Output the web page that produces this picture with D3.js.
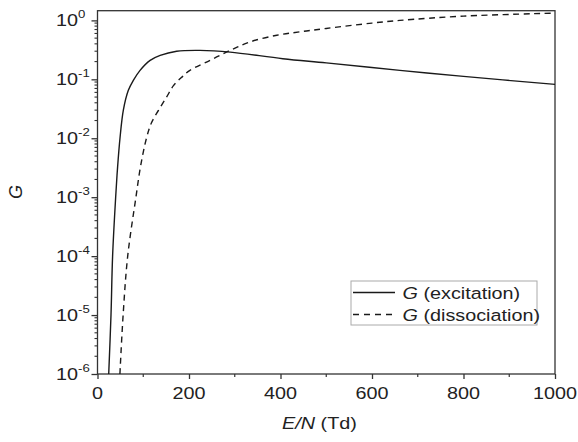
<!DOCTYPE html>
<html>
<head>
<meta charset="utf-8">
<script src="https://cdn.jsdelivr.net/npm/d3@7"></script>
<style>
  body { margin: 0; background: #fff; }
  text { font-family: "Liberation Sans", Arial, sans-serif; fill: #222; }
</style>
</head>
<body>
<svg id="chart" width="578" height="442"></svg>
<script>
// values
const excitationEN = [24.5, 29.5, 33, 39.7, 44, 49.2, 56.5, 67.4, 78.3, 93, 115, 137, 173, 224, 290, 405, 500, 661, 800, 1000];
const excitationG = [1e-6, 1e-5, 1e-4, 1e-3, 3.3e-3, 0.0101, 0.03, 0.065, 0.096, 0.142, 0.21, 0.255, 0.30, 0.31, 0.29, 0.224, 0.19, 0.142, 0.112, 0.082];

const dissociationEN = [49, 56, 66, 84, 94, 107, 117.5, 133.5, 151, 166, 185, 202, 246, 290, 333, 392, 443, 500, 600, 661, 800, 1000];
const dissociationG = [1e-6, 1e-5, 1e-4, 1e-3, 3.3e-3, 0.01, 0.018, 0.03, 0.05, 0.078, 0.11, 0.142, 0.21, 0.31, 0.43, 0.56, 0.64, 0.73, 0.9, 1.0, 1.18, 1.33];

const xTicks = [0, 200, 400, 600, 800, 1000];
const yExponents = [0, -1, -2, -3, -4, -5, -6];
const legendLabels = ["(excitation)", "(dissociation)"];

const svg = d3.select("#chart");
const margin = {left: 97.5, right: 23, top: 10.7, bottom: 68};
const width = 578 - margin.left - margin.right;
const height = 442 - margin.top - margin.bottom;
const stretch = 1.2; // the reference text is wider than plain Arial

const x = d3.scaleLinear().domain([0, 1000]).range([0, width]);
const y = d3.scaleLog().domain([1e-6, Math.pow(10, 9.7 / 59)]).range([height, 0]);

const g = svg.append("g")
  .attr("transform", "translate(" + margin.left + "," + margin.top + ")");

// text placed in a horizontally stretched group
function label(parent, px, py, anchor, size) {
  return parent.append("g")
    .attr("transform", "translate(" + px + "," + py + ") scale(" + stretch + ",1)")
    .append("text")
    .attr("text-anchor", anchor)
    .attr("font-size", size);
}

// minor ticks
const xMinor = d3.range(100, 1000, 200);
g.selectAll(".xminor").data(xMinor).enter().append("line")
  .attr("x1", d => x(d)).attr("x2", d => x(d))
  .attr("y1", height).attr("y2", height + 3)
  .attr("stroke", "#333").attr("stroke-width", 1.2);

const yMinor = [];
for (let e = -6; e < 0; e++) {
  for (let k = 2; k <= 9; k++) yMinor.push(k * Math.pow(10, e));
}
g.selectAll(".yminor").data(yMinor).enter().append("line")
  .attr("x1", -3).attr("x2", 0)
  .attr("y1", d => y(d)).attr("y2", d => y(d))
  .attr("stroke", "#333").attr("stroke-width", 1.1);

// bottom axis
const xAxis = d3.axisBottom(x).tickValues(xTicks).tickSize(5).tickSizeOuter(0).tickFormat("");
const xg = g.append("g").attr("transform", "translate(0," + height + ")").call(xAxis);
xg.select(".domain").remove();
xg.selectAll(".tick line").attr("stroke", "#333").attr("stroke-width", 1.3);
xTicks.forEach(t => {
  label(g, x(t), height + 25, "middle", 16.5).text(t);
});

// left axis
const yAxis = d3.axisLeft(y).tickValues(yExponents.map(e => Math.pow(10, e)))
  .tickSize(6).tickSizeOuter(0).tickFormat("");
const yg = g.append("g").call(yAxis);
yg.select(".domain").remove();
yg.selectAll(".tick line").attr("stroke", "#333").attr("stroke-width", 1.3);

yExponents.forEach(e => {
  label(g, -19.5, y(Math.pow(10, e)) + 6, "end", 16.5).text("10");
  label(g, -19.5, y(Math.pow(10, e)) - 2, "start", 11).text(e);
});

// frame
g.append("rect")
  .attr("width", width).attr("height", height)
  .attr("fill", "none").attr("stroke", "#333").attr("stroke-width", 1.3);

// curves
const line = d3.line()
  .x(d => x(d[0]))
  .y(d => y(d[1]))
  .curve(d3.curveCatmullRom.alpha(0.5));

g.append("path")
  .datum(d3.zip(excitationEN, excitationG))
  .attr("d", line)
  .attr("fill", "none").attr("stroke", "#1a1a1a").attr("stroke-width", 1.4);

g.append("path")
  .datum(d3.zip(dissociationEN, dissociationG))
  .attr("d", line)
  .attr("fill", "none").attr("stroke", "#1a1a1a").attr("stroke-width", 1.4)
  .attr("stroke-dasharray", "6,4.5");

// legend
const legend = svg.append("g").attr("transform", "translate(351,281)");
legend.append("rect")
  .attr("width", 186).attr("height", 44)
  .attr("fill", "#fff").attr("stroke", "#aaa").attr("stroke-width", 1);

legendLabels.forEach((d, i) => {
  const ry = 11.5 + i * 22;
  legend.append("line")
    .attr("x1", 2).attr("x2", 44).attr("y1", ry).attr("y2", ry)
    .attr("stroke", "#1a1a1a").attr("stroke-width", 1.4)
    .attr("stroke-dasharray", i === 1 ? "6,5" : null);
  const t = label(legend, 51.5, ry + 6, "start", 16.5);
  t.append("tspan").attr("font-style", "italic").text("G");
  t.append("tspan").text(" " + d);
});

// axis titles
const xTitle = label(svg, 319.5, 429, "middle", 16.5);
xTitle.append("tspan").attr("font-style", "italic").text("E/N");
xTitle.append("tspan").text(" (Td)");

svg.append("g")
  .attr("transform", "translate(22,192) rotate(-90) scale(1.1,1.15)")
  .append("text")
  .attr("text-anchor", "middle").attr("font-size", 16.5)
  .attr("font-style", "italic").text("G");
</script>
</body>
</html>
